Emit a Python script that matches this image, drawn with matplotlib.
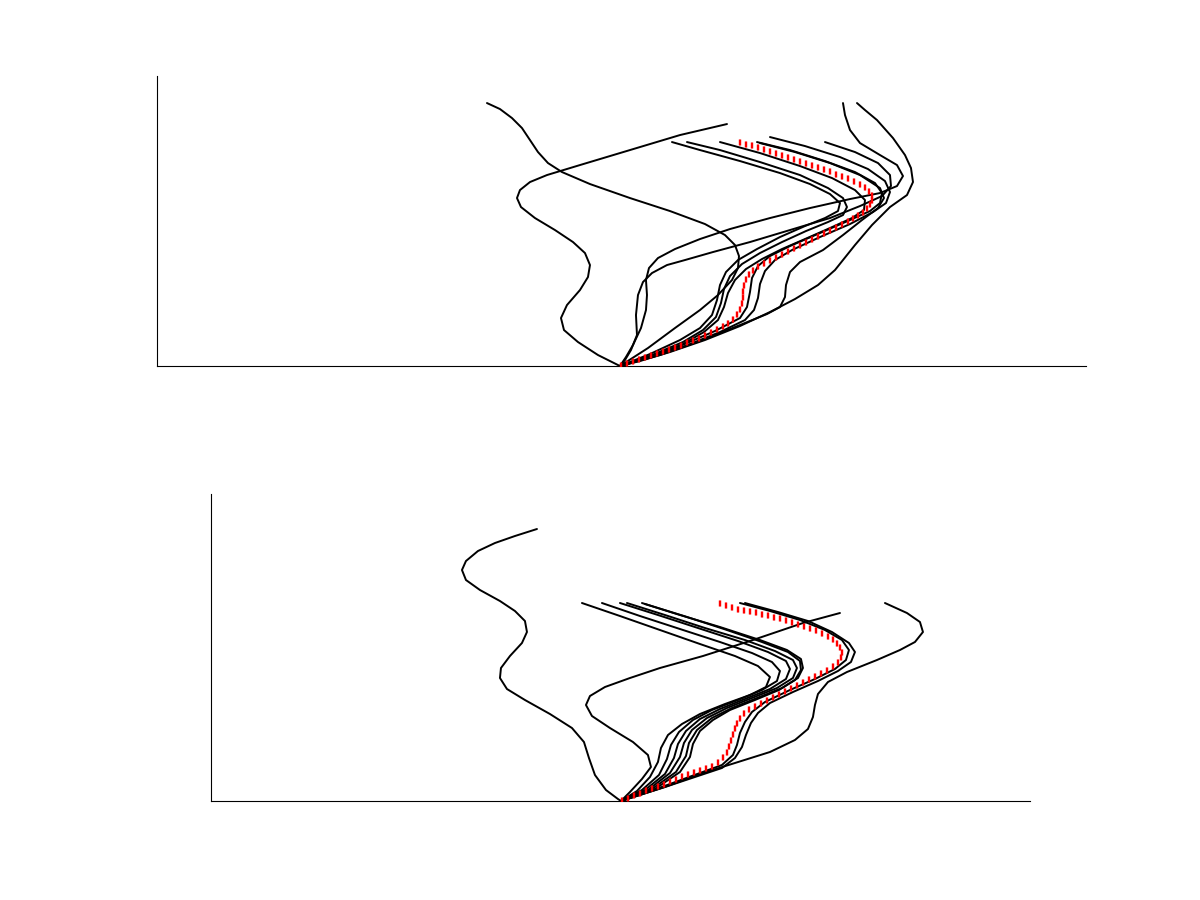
import matplotlib
matplotlib.use("Agg")
import matplotlib.pyplot as plt

# ---------------- Top panel: profiles (x offset, height) ----------------
top_A = [(-133,263),(-120,257),(-108,248),(-98,238),(-90,226),(-82,214),(-72,203),(-58,194),(-30,182),(10,168),(50,155),(85,142),(105,131),(115,121),(119,110),(118,98),(112,86),(98,71),(80,56),(55,38),(28,18),(0,0)]
top_B = [(107,242),(60,231),(10,216),(-40,201),(-73,191),(-90,184),(-100,176),(-103,168),(-99,159),(-85,148),(-65,136),(-47,124),(-35,113),(-30,101),(-32,89),(-40,76),(-53,61),(-59,48),(-56,36),(-42,24),(-22,11),(0,0)]
top_C1 = [(52,224),(80,216),(120,205),(160,193),(190,182),(210,172),(220,163),(218,155),(205,148),(185,140),(160,129),(137,117),(118,106),(106,94),(100,81),(97,66),(92,51),(80,38),(60,26),(30,12),(0,0)]
top_C2 = [(67,224),(100,216),(140,204),(180,191),(208,178),(223,168),(227,159),(223,151),(208,144),(186,135),(162,124),(140,113),(122,102),(110,90),(104,77),(101,63),(96,49),(83,36),(63,24),(32,11),(0,0)]
top_C3 = [(100,224),(140,213),(180,200),(212,188),(235,176),(245,166),(244,156),(232,148),(210,138),(185,127),(162,117),(142,107),(126,97),(115,86),(108,73),(104,59),(98,46),(84,34),(63,22),(32,10),(0,0)]
top_C4 = [(137,224),(170,216),(205,205),(235,194),(255,183),(262,173),(260,163),(250,155),(230,146),(200,133),(170,120),(150,110),(138,100),(132,88),(130,74),(127,59),(120,48),(95,35),(60,20),(30,9),(0,0)]
top_C5 = [(150,229),(185,220),(220,209),(248,197),(265,185),(270,174),(266,163),(253,154),(230,142),(200,129),(172,116),(155,106),(145,95),(140,82),(138,68),(134,56),(125,46),(100,34),(65,20),(32,9),(0,0)]
top_C6 = [(140,223),(175,214),(210,203),(240,191),(260,178),(264,168),(258,158),(242,146),(223,131),(203,116),(180,104),(170,94),(166,81),(165,69),(160,59),(147,52),(120,41),(80,25),(40,11),(0,0)]
top_L2 = [(205,224),(235,214),(258,203),(270,191),(271,180),(262,170),(240,160),(210,148),(170,136),(130,124),(93,114),(65,106),(47,101),(32,93),(23,84),(18,71),(16,51),(17,31),(11,16),(5,6),(0,0)]
top_C7 = [(223,263),(225,251),(230,236),(240,223),(260,211),(277,201),(283,190),(277,180),(260,173),(230,167),(190,158),(150,148),(110,137),(80,127),(55,117),(38,108),(29,98),(26,86),(27,71),(26,56),(21,38),(13,21),(6,9),(0,0)]
top_C8 = [(237,263),(245,256),(257,246),(273,228),(285,211),(291,198),(293,184),(287,171),(270,159),(252,141),(235,121),(215,96),(198,81),(175,67),(150,54),(120,40),(85,26),(50,14),(20,5),(0,0)]

top_red_x = [1,7,13,19,25,31,37,43,49,55,61,67,73,79,85,91,97,103,108,113,117,120,122,123,123,124,126,129,133,138,144,150,156,162,168,174,180,186,192,198,204,210,216,222,228,233,238,243,247,250,252,252,249,245,240,234,228,222,216,210,204,198,192,186,180,174,168,162,156,150,144,138,132,126,120]
top_red_y = [1,3,5,7,9,11,13,15,17,19,21,24,26,28,31,34,37,40,43,47,52,57,63,69,75,81,87,92,96,100,103,106,109,112,115,118,121,124,127,130,133,136,139,142,145,148,151,154,158,162,166,171,175,179,182,185,188,190,192,195,197,199,201,203,205,207,209,211,213,215,217,219,221,222,224]

# ---------------- Bottom panel ----------------
bot_D = [(-84,272),(-106,265),(-126,258),(-143,250),(-155,240),(-159,231),(-155,221),(-141,211),(-121,200),(-106,190),(-96,180),(-94,169),(-99,158),(-111,145),(-120,133),(-121,123),(-114,112),(-96,101),(-71,87),(-49,73),(-37,59),(-32,43),(-26,26),(-15,11),(-3,2),(0,0)]
bot_E = [(219,188),(182,178),(132,161),(82,145),(39,133),(9,123),(-16,114),(-31,105),(-35,96),(-29,85),(-11,73),(12,59),(27,46),(30,34),(21,22),(9,9),(0,0)]
bot_F = [(264,198),(286,188),(299,179),(302,169),(294,159),(279,151),(256,141),(226,129),(207,119),(197,107),(194,96),(192,84),(187,72),(174,61),(149,49),(114,38),(79,27),(44,14),(19,6),(0,0)]
bot_G1 = [(-39,198),(-1,185),(39,171),(79,157),(114,145),(137,135),(149,124),(145,114),(129,106),(104,97),(79,87),(61,77),(47,66),(40,53),(37,39),(29,24),(16,10),(0,0)]
bot_G2 = [(-19,198),(19,185),(59,172),(99,159),(131,148),(151,139),(159,130),(156,120),(141,111),(117,101),(91,91),(72,81),(58,69),(50,56),(46,42),(38,26),(21,11),(0,0)]
bot_G3 = [(-1,198),(37,186),(77,173),(117,160),(147,149),(165,140),(169,132),(165,122),(149,112),(124,102),(99,92),(79,82),(65,70),(57,57),(53,43),(44,27),(24,11),(0,0)]
bot_G4 = [(6,198),(44,186),(84,173),(124,161),(154,150),(172,141),(176,133),(172,123),(156,113),(131,103),(106,93),(86,83),(71,71),(63,58),(59,44),(49,28),(27,11),(0,0)]
bot_G5 = [(21,198),(59,186),(99,174),(139,161),(166,151),(180,142),(182,133),(177,123),(161,113),(136,103),(111,93),(91,83),(76,71),(68,58),(65,45),(55,29),(31,12),(0,0)]
bot_G6 = [(24,197),(63,185),(103,172),(141,159),(167,149),(179,140),(180,131),(174,121),(158,111),(134,101),(109,91),(92,81),(79,70),(72,57),(69,44),(59,29),(34,12),(0,0)]
bot_H1 = [(119,198),(149,190),(179,181),(204,171),(221,161),(228,151),(225,141),(214,132),(194,122),(169,111),(144,99),(131,89),(124,79),(119,68),(116,56),(112,46),(101,36),(79,28),(49,17),(24,8),(0,0)]
bot_H2 = [(124,198),(157,189),(187,180),(211,169),(228,158),(234,149),(230,139),(217,130),(197,120),(172,109),(149,98),(137,88),(130,78),(125,66),(121,54),(114,43),(101,33),(77,25),(47,15),(22,7),(0,0)]

bot_red_x = [99,105,111,117,123,129,135,141,147,153,159,165,171,177,183,189,195,201,207,212,216,219,221,220,217,212,206,200,194,188,182,176,170,164,158,152,146,140,134,128,123,119,116,114,112,110,108,106,102,97,91,85,79,73,67,61,55,49,43,37,31,25,19,13,7,1]
bot_red_y = [198,196,194,192,191,190,189,187,186,184,183,181,179,177,175,173,171,168,165,162,158,154,149,144,139,135,131,128,125,122,119,116,113,110,107,104,101,98,95,92,88,83,78,73,67,61,55,49,44,39,35,33,31,29,27,25,22,20,17,15,13,11,8,6,3,1]

top_curves = [top_A, top_B, top_C1, top_C2, top_C3, top_C4, top_C5, top_C6, top_L2, top_C7, top_C8]
bot_curves = [bot_D, bot_E, bot_F, bot_G1, bot_G2, bot_G3, bot_G4, bot_G5, bot_G6, bot_H1, bot_H2]

fig = plt.figure(figsize=(12, 9), dpi=100)
ax1 = fig.add_axes([0.1308, 0.5933, 0.7742, 0.3222])
ax2 = fig.add_axes([0.1758, 0.1100, 0.6825, 0.3411])

def draw(ax, curves, rx, ry, xlim, ylim):
    for c in curves:
        xs = [p[0] for p in c]
        ys = [p[1] for p in c]
        ax.plot(xs, ys, color="black", lw=1.4, solid_joinstyle="round",
                solid_capstyle="round")
    ax.errorbar(rx, ry, xerr=0.5, fmt="none", ecolor="red",
                elinewidth=0.9, capsize=2.4, capthick=1.0, zorder=5)
    ax.set_xlim(*xlim)
    ax.set_ylim(*ylim)
    ax.set_xticks([])
    ax.set_yticks([])
    for s in ("top", "right"):
        ax.spines[s].set_visible(False)
    for s in ("left", "bottom"):
        ax.spines[s].set_linewidth(0.8)

draw(ax1, top_curves, top_red_x, top_red_y, (-463, 466), (0, 290))
draw(ax2, bot_curves, bot_red_x, bot_red_y, (-410, 409), (0, 307))

fig.savefig("out.png", dpi=100)
